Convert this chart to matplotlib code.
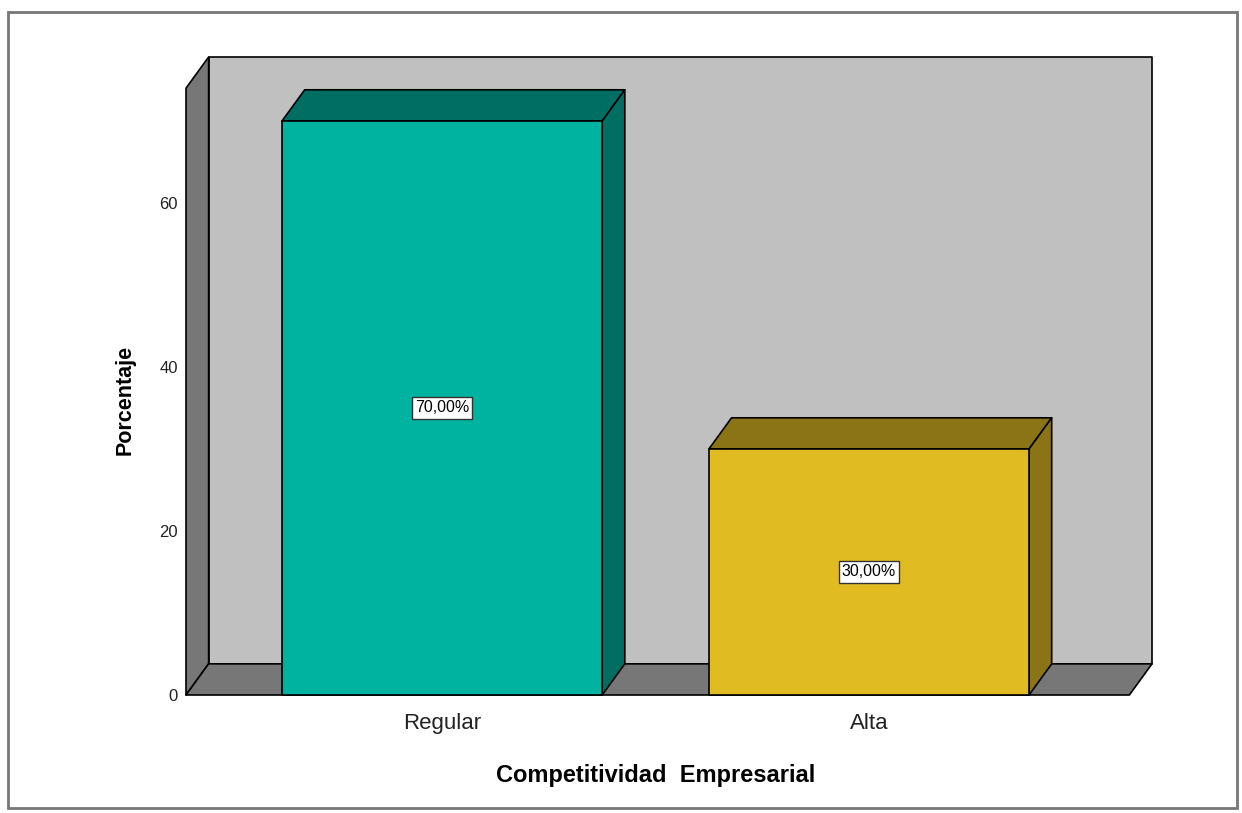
import matplotlib
matplotlib.use("Agg")
import matplotlib.pyplot as plt
from matplotlib.patches import Polygon, Rectangle

plt.rcParams['font.family'] = ['Liberation Sans', 'DejaVu Sans']

# data
categories = ["Regular", "Alta"]
values = [70.0, 30.0]
labels = ["70,00%", "30,00%"]
front_colors = ["#00b3a0", "#e0bc22"]
dark_colors = ["#006e62", "#8a7416"]
y_ticks = [0, 20, 40, 60]

# 3d look settings (data units)
bar_w = 0.75
dx, dy = 0.053, 3.8
x0, x1 = -0.60, 1.61
wall_top = 74

fig = plt.figure(figsize=(12.42, 8.13), dpi=100)
ax = fig.add_axes([186/1242, 1-695/813, (1152-186)/1242, (695-57)/813])
ax.set_xlim(x0, x1 + dx)
ax.set_ylim(0, wall_top + dy)

def poly(pts, fc):
    p = Polygon(pts, closed=True, facecolor=fc, edgecolor="black", lw=1.2,
                clip_on=False, joinstyle="round")
    ax.add_patch(p)

# walls and floor
poly([(x0+dx, dy), (x1+dx, dy), (x1+dx, wall_top+dy), (x0+dx, wall_top+dy)], "#c0c0c0")
poly([(x0, 0), (x0+dx, dy), (x0+dx, wall_top+dy), (x0, wall_top)], "#777777")
poly([(x0, 0), (x1, 0), (x1+dx, dy), (x0+dx, dy)], "#777777")

# bars
for i, v in enumerate(values):
    l, r = i - bar_w/2, i + bar_w/2
    poly([(l, v), (r, v), (r+dx, v+dy), (l+dx, v+dy)], dark_colors[i])
    poly([(r, 0), (r+dx, dy), (r+dx, v+dy), (r, v)], dark_colors[i])
    poly([(l, 0), (r, 0), (r, v), (l, v)], front_colors[i])
    ax.text(i, v/2, labels[i], ha="center", va="center", fontsize=11.5,
            bbox=dict(boxstyle="square,pad=0.2", fc="white", ec="#333333", lw=1))

for s in ax.spines.values():
    s.set_visible(False)
ax.set_xticks(range(len(categories)))
ax.set_xticklabels(categories, fontsize=16, color="#222222")
ax.set_yticks(y_ticks)
ax.set_yticklabels([str(t) for t in y_ticks], fontsize=12, color="#222222")
ax.tick_params(length=0)
ax.tick_params(axis="x", pad=13)
ax.tick_params(axis="y", pad=6)
ax.set_xlabel("Competitividad  Empresarial", fontsize=17, fontweight="bold")
ax.xaxis.set_label_coords(0.4865, -0.108)
ax.set_ylabel("Porcentaje", fontsize=15.5, fontweight="bold")
ax.yaxis.set_label_coords(-0.052, 0.462)

# outer frame
fig.patches.append(Rectangle((8/1242, 1-808/813), (1237-8)/1242, (808-12)/813,
                             transform=fig.transFigure, fill=False,
                             ec="#777777", lw=2))

plt.savefig("out.png", dpi=100)
